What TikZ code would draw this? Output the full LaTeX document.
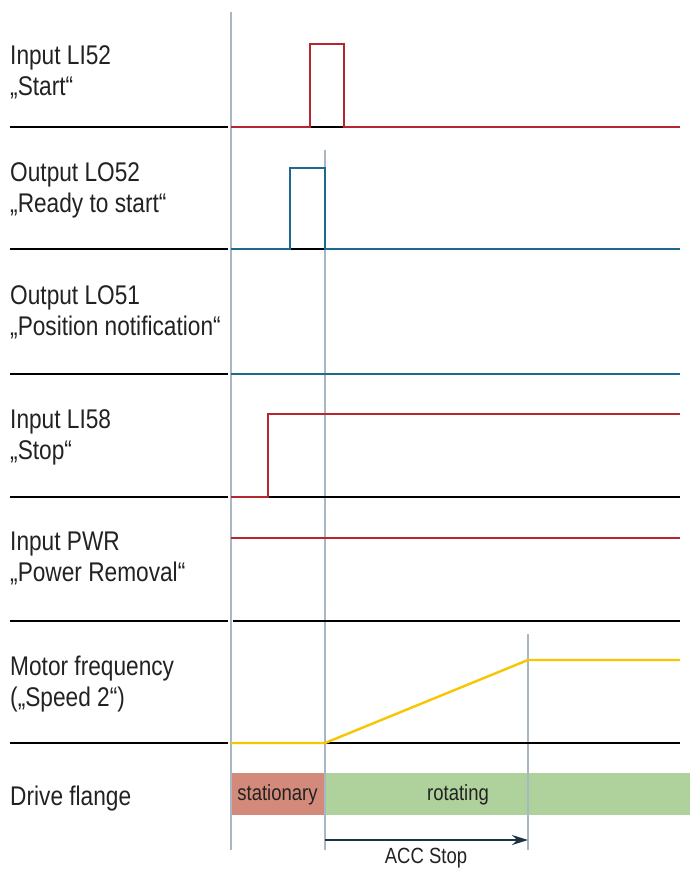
\documentclass[tikz,border=0pt]{standalone}
\usepackage{fontspec}
\setmainfont[FakeStretch=0.84]{Liberation Sans}
\usetikzlibrary{positioning,arrows.meta}

\definecolor{sigred}{HTML}{B5262F}
\definecolor{sigblue}{HTML}{1E6A8E}
\definecolor{sigyellow}{HTML}{F6C700}
\definecolor{gridgray}{HTML}{A9B7C2}
\definecolor{standred}{HTML}{D38A7A}
\definecolor{rotgreen}{HTML}{AFD19C}
\definecolor{arrowdark}{HTML}{1C3344}
\definecolor{textdark}{HTML}{222222}

\begin{document}
\begin{tikzpicture}[x=1pt,y=-1pt]
	\tikzset{axis/.style={black,line width=2.2pt}}
	\tikzset{sig/.style={line width=2.4pt,line join=miter}}
	\tikzset{marker/.style={gridgray,line width=1.8pt}}
	\tikzset{lbl/.style={anchor=north west,align=left,inner sep=0pt,text=textdark,font=\fontsize{27}{31}\selectfont}}
	\tikzset{small/.style={inner sep=0pt,text=textdark,font=\fontsize{22}{26}\selectfont}}

\useasboundingbox (0,0) rectangle (690,870);

% drive flange bands
\fill[standred] (231,773) rectangle (324,815);
\fill[rotgreen] (325,773) rectangle (690,815);

% time marks
\draw[marker] (231,12) -- (231,850);
\draw[marker] (325,150) -- (325,850);
\draw[marker] (528,634) -- (528,850);

% axes
\foreach \y in {127,249,374,497,621,743}{
	\draw[axis] (10,\y) -- (228,\y);
	\draw[axis] (233,\y) -- (680,\y);
}

% signals
\draw[sig,sigred] (231,127) -- (310,127) -- (310,44) -- (344,44) -- (344,127) -- (680,127);
\draw[sig,sigblue] (231,249) -- (290,249) -- (290,168) -- (325,168) -- (325,249) -- (680,249);
\draw[sig,sigblue] (231,374) -- (680,374);
\draw[sig,sigred] (231,497) -- (268,497) -- (268,414) -- (680,414);
\draw[sig,sigred] (231,538) -- (680,538);
\draw[sig,sigyellow] (231,743) -- (325,743) -- (528,660) -- (680,660);

% labels
\node[lbl] (li52) at (10,45) {Input LI52\\„Start“};
\node[lbl] (lo52) at (10,162) {Output LO52\\„Ready to start“};
\node[lbl] (lo51) at (10,285) {Output LO51\\„Position notification“};
\node[lbl] (li58) at (10,409) {Input LI58\\„Stop“};
\node[lbl] (pwr) at (10,532) {Input PWR\\„Power Removal“};
\node[lbl] (motor) at (10,656) {Motor frequency\\(„Speed 2“)};
\node[lbl] (flange) at (10,786) {Drive flange};

\node[small] (stat) at (277.5,795) {stationary};
\node[small] (rot) at (458,795) {rotating};

% acc time
\coordinate (accA) at (325,840);
\coordinate (accB) at (528,840);
\draw[arrowdark,line width=2pt,-{Stealth[length=16pt,width=10pt]}] (accA) -- (accB);
\node[small] (acc) at (426,858) {ACC Stop};

	\end{tikzpicture}
\end{document}
